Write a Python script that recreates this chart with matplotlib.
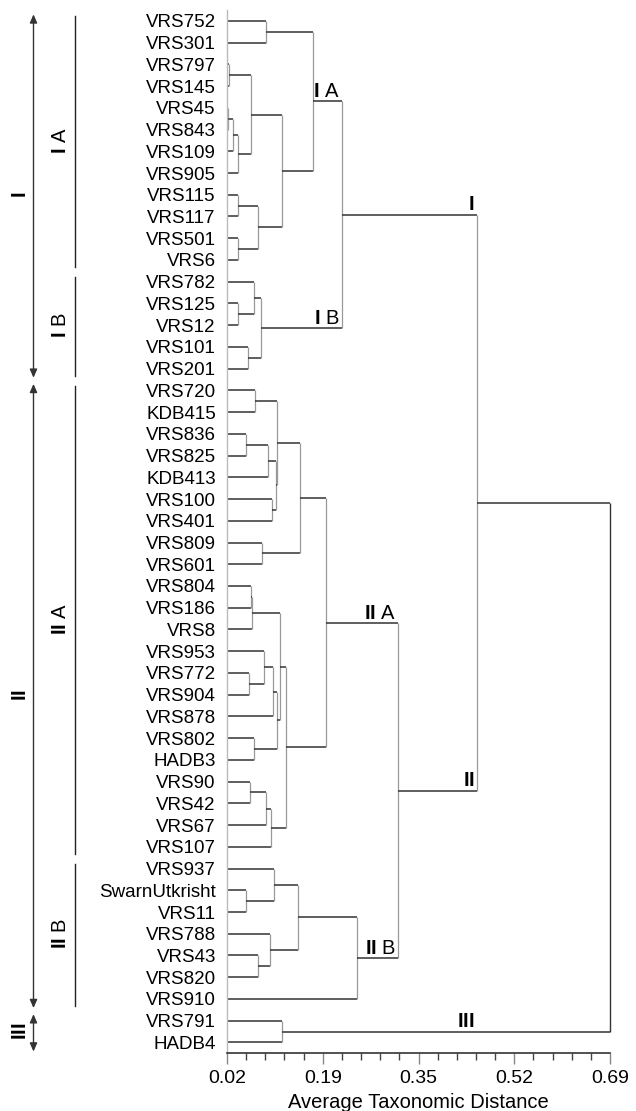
import matplotlib
matplotlib.use('Agg')
import matplotlib.pyplot as plt
import matplotlib.transforms as mtransforms
import numpy as np

plt.rcParams['font.family'] = ['Liberation Sans', 'DejaVu Sans']
plt.rcParams['mathtext.fontset'] = 'custom'
plt.rcParams['mathtext.rm'] = 'Liberation Sans'
plt.rcParams['mathtext.bf'] = 'Liberation Sans:bold'

# ---------------- data ----------------
leaves = ['VRS752', 'VRS301', 'VRS797', 'VRS145', 'VRS45', 'VRS843', 'VRS109',
          'VRS905', 'VRS115', 'VRS117', 'VRS501', 'VRS6', 'VRS782', 'VRS125',
          'VRS12', 'VRS101', 'VRS201', 'VRS720', 'KDB415', 'VRS836', 'VRS825',
          'KDB413', 'VRS100', 'VRS401', 'VRS809', 'VRS601', 'VRS804', 'VRS186',
          'VRS8', 'VRS953', 'VRS772', 'VRS904', 'VRS878', 'VRS802', 'HADB3',
          'VRS90', 'VRS42', 'VRS67', 'VRS107', 'VRS937', 'SwarnUtkrisht',
          'VRS11', 'VRS788', 'VRS43', 'VRS820', 'VRS910', 'VRS791', 'HADB4']

# merges: (child a, child b, distance); new cluster ids start at len(leaves)
merge_a = [0, 2, 4, 50, 51, 49, 8, 10, 54, 53, 48, 13, 12, 15, 60, 58,
           17, 19, 65, 22, 66, 64, 24, 69, 26, 72, 30, 29, 75, 33, 76, 73,
           35, 80, 81, 79, 71, 40, 39, 43, 42, 86, 89, 84, 63, 46, 92]
merge_b = [1, 3, 5, 6, 7, 52, 9, 11, 55, 56, 57, 14, 59, 16, 61, 62,
           18, 20, 21, 23, 67, 68, 25, 70, 27, 28, 31, 74, 32, 34, 77, 78,
           36, 37, 38, 82, 83, 41, 85, 44, 87, 88, 45, 90, 91, 47, 93]
merge_d = [0.088, 0.023, 0.022, 0.031, 0.039, 0.0615, 0.039, 0.040, 0.074,
           0.117, 0.171, 0.040, 0.068, 0.056, 0.080, 0.221,
           0.069, 0.054, 0.092, 0.098, 0.105, 0.1075, 0.082, 0.148,
           0.062, 0.064, 0.0585, 0.085, 0.100, 0.068, 0.108, 0.113,
           0.060, 0.089, 0.097, 0.123, 0.193, 0.054, 0.102, 0.075,
           0.095, 0.144, 0.247, 0.320, 0.457, 0.117, 0.690]

tick_values = [0.02, 0.1875, 0.355, 0.5225, 0.69]
tick_labels = ['0.02', '0.19', '0.35', '0.52', '0.69']
xlabel = 'Average Taxonomic Distance'

# labels on tree: (numeral, letter, node id)
tree_labels = [('I', 'A', 58), ('I', 'B', 62), ('I', '', 63),
               ('II', 'A', 84), ('II', '', 91), ('II', 'B', 90), ('III', '', 93)]
# left side groups: (numeral, letter, first leaf, last leaf)
sub_groups = [('I', 'A', 0, 11), ('I', 'B', 12, 16),
              ('II', 'A', 17, 38), ('II', 'B', 39, 45)]
main_groups = [('I', 0, 16), ('II', 17, 45), ('III', 46, 47)]

# ---------------- figure ----------------
W, H = 636, 1111
fig = plt.figure(figsize=(W / 100, H / 100), dpi=100)
ax_left, ax_right, ax_top, ax_bot = 227, 610, 10, 1053.3
ax = fig.add_axes([ax_left / W, (H - ax_bot) / H,
                   (ax_right - ax_left) / W, (ax_bot - ax_top) / H])

n = len(leaves)
xmin, xmax = 0.02, 0.69
ax.set_xlim(xmin, xmax)
ax.set_ylim(n - 0.5, -0.5)

hcol = '#333333'
vcol = '#999999'
pos = {i: (xmin, float(i)) for i in range(n)}
parent = {}
for k, (a, b, d) in enumerate(zip(merge_a, merge_b, merge_d)):
    xa, ya = pos[a]
    xb, yb = pos[b]
    ax.plot([xa, d], [ya, ya], color=hcol, lw=1.1, solid_capstyle='butt', clip_on=False)
    ax.plot([xb, d], [yb, yb], color=hcol, lw=1.1, solid_capstyle='butt', clip_on=False)
    root = (k == len(merge_d) - 1)
    ax.plot([d, d], [ya, yb], color=hcol if root else vcol, lw=1.0 if root else 0.9,
            solid_capstyle='butt', clip_on=False)
    pos[n + k] = (d, (ya + yb) / 2)
    parent[a] = n + k
    parent[b] = n + k


def lab(num, letter):
    s = r'$\mathbf{%s}$' % num
    if letter:
        s += ' ' + letter
    return s


for num, letter, node in tree_labels:
    x, y = pos[node]
    px = pos[parent[node]][0]
    if num == 'III':
        ax.annotate(lab(num, letter), xy=(0.437, y), xytext=(0, 3),
                    textcoords='offset points', ha='center', va='baseline',
                    fontsize=14.5)
    else:
        ax.annotate(lab(num, letter), xy=(px, y), xytext=(-1.5, 3),
                    textcoords='offset points', ha='right', va='baseline',
                    fontsize=14.5)

# axes styling
ax.set_yticks(range(n))
ax.set_yticklabels(leaves, fontsize=13.5)
ax.tick_params(axis='y', length=0, pad=8)
ax.set_xticks(tick_values)
ax.set_xticklabels(tick_labels, fontsize=14)
ax.set_xticks(np.linspace(xmin, xmax, 21), minor=True)
ax.tick_params(axis='x', which='major', length=8, width=1, color='#888888', pad=4)
ax.tick_params(axis='x', which='minor', length=5, width=1, color='#444444')
ax.set_xlabel(xlabel, fontsize=14.5, labelpad=4.5)
for s in ['top', 'right']:
    ax.spines[s].set_visible(False)
ax.spines['left'].set_color('#bbbbbb')
ax.spines['left'].set_linewidth(1.0)
ax.spines['bottom'].set_color('#333333')
ax.spines['bottom'].set_linewidth(1.2)

# left annotations
tr = mtransforms.blended_transform_factory(fig.transFigure, ax.transData)
for num, letter, s, e in sub_groups:
    ax.plot([75 / W, 75 / W], [s - 0.22, e + 0.33], transform=tr, color='#222222',
            lw=1.0, clip_on=False)
    ax.text(61 / W, (s + e) / 2, lab(num, letter), transform=tr, rotation=90,
            ha='center', va='center', fontsize=14.5)
for num, s, e in main_groups:
    ax.annotate('', xy=(33.5 / W, s - 0.3), xytext=(33.5 / W, e + 0.42),
                xycoords=tr, textcoords=tr,
                arrowprops=dict(arrowstyle='<|-|>,head_length=0.5,head_width=0.22',
                                color='#333333', lw=1.0, shrinkA=0, shrinkB=0,
                                mutation_scale=10))
    ax.text(20 / W, (s + e) / 2, lab(num, ''), transform=tr, rotation=90,
            ha='center', va='center', fontsize=14.5)

fig.savefig('out.png', dpi=100)
